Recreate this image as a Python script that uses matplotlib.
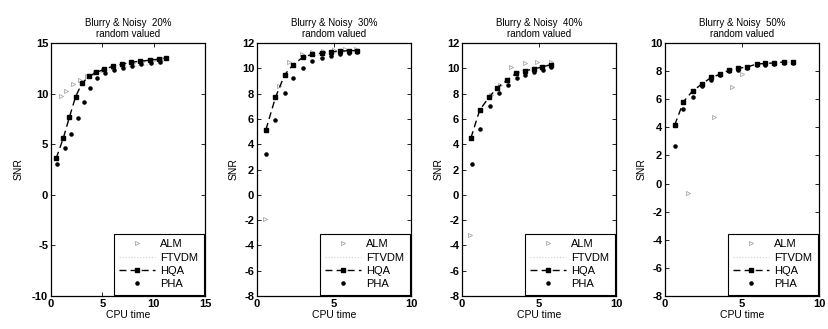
import matplotlib
matplotlib.use("Agg")
import matplotlib.pyplot as plt

plt.rcParams['font.family'] = ['Liberation Sans', 'DejaVu Sans']
plt.rcParams['axes.unicode_minus'] = False

titles = ["Blurry & Noisy  20%\nrandom valued", "Blurry & Noisy  30%\nrandom valued",
          "Blurry & Noisy  40%\nrandom valued", "Blurry & Noisy  50%\nrandom valued"]
methods = ["ALM", "FTVDM", "HQA", "PHA"]

# Panel 1 (20%)
p1_alm_x = [1.0, 1.5, 2.1, 2.8, 3.5, 4.3, 5.1, 6.0, 7.0, 8.0, 9.0, 10.0, 11.0]
p1_alm_y = [9.8, 10.3, 10.9, 11.3, 11.7, 12.0, 12.3, 12.6, 12.8, 13.0, 13.2, 13.3, 13.4]
p1_ftv_x = [4.0, 5.0, 6.0, 7.0, 8.0, 9.0, 10.0, 11.0]
p1_ftv_y = [11.8, 12.2, 12.4, 12.6, 12.7, 12.8, 12.9, 13.0]
p1_hqa_x = [0.5, 1.2, 1.8, 2.4, 3.0, 3.7, 4.4, 5.2, 6.0, 6.9, 7.8, 8.7, 9.6, 10.5, 11.2]
p1_hqa_y = [3.6, 5.6, 7.7, 9.7, 11.0, 11.7, 12.1, 12.4, 12.7, 12.9, 13.1, 13.2, 13.3, 13.4, 13.5]
p1_pha_x = [0.6, 1.35, 1.95, 2.6, 3.2, 3.8, 4.5, 5.3, 6.1, 7.0, 7.9, 8.8, 9.7, 10.6]
p1_pha_y = [3.0, 4.6, 6.0, 7.6, 9.2, 10.6, 11.5, 12.0, 12.3, 12.5, 12.7, 12.9, 13.0, 13.1]

# Panel 2 (30%)
p2_alm_x = [0.5, 1.45, 2.1, 2.9, 3.6, 4.3, 5.0, 5.7, 6.4]
p2_alm_y = [-1.9, 8.6, 10.5, 11.1, 11.3, 11.4, 11.45, 11.5, 11.5]
p2_ftv_x = [3.0, 3.7, 4.4, 5.1, 5.8, 6.5]
p2_ftv_y = [10.8, 11.0, 11.1, 11.2, 11.3, 11.3]
p2_hqa_x = [0.58, 1.2, 1.8, 2.37, 3.0, 3.6, 4.2, 4.8, 5.4, 6.0, 6.5]
p2_hqa_y = [5.15, 7.7, 9.5, 10.3, 10.9, 11.1, 11.2, 11.3, 11.35, 11.4, 11.4]
p2_pha_x = [0.58, 1.2, 1.8, 2.33, 2.97, 3.6, 4.2, 4.8, 5.4, 6.0, 6.5]
p2_pha_y = [3.2, 5.94, 8.04, 9.27, 10.06, 10.6, 10.85, 11.0, 11.1, 11.2, 11.25]

# Panel 3 (40%)
p3_alm_x = [0.5, 1.9, 2.5, 3.2, 4.1, 4.9, 5.8]
p3_alm_y = [-3.2, 7.9, 8.7, 10.1, 10.4, 10.5, 10.5]
p3_ftv_x = [3.5, 4.1, 4.7, 5.2, 5.8]
p3_ftv_y = [9.7, 9.9, 10.1, 10.2, 10.3]
p3_hqa_x = [0.58, 1.15, 1.75, 2.3, 2.93, 3.5, 4.1, 4.65, 5.2, 5.8]
p3_hqa_y = [4.5, 6.7, 7.7, 8.48, 9.06, 9.6, 9.8, 9.95, 10.1, 10.3]
p3_pha_x = [0.62, 1.2, 1.8, 2.4, 2.97, 3.54, 4.1, 4.68, 5.26, 5.81]
p3_pha_y = [2.45, 5.2, 7.04, 8.04, 8.7, 9.27, 9.5, 9.74, 9.9, 10.1]

# Panel 4 (50%)
p4_alm_x = [1.5, 3.2, 4.35, 5.0]
p4_alm_y = [-0.7, 4.7, 6.9, 7.8]
p4_ftv_x = [5.9, 6.5, 7.1, 7.7, 8.3]
p4_ftv_y = [8.4, 8.5, 8.55, 8.6, 8.65]
p4_hqa_x = [0.63, 1.2, 1.8, 2.4, 3.0, 3.57, 4.17, 4.76, 5.35, 5.95, 6.5, 7.1, 7.7, 8.3]
p4_hqa_y = [4.16, 5.82, 6.6, 7.08, 7.55, 7.77, 8.07, 8.2, 8.3, 8.5, 8.55, 8.58, 8.65, 8.65]
p4_pha_x = [0.67, 1.2, 1.8, 2.4, 3.0, 3.57, 4.17, 4.76, 5.35, 5.95, 6.5, 7.1, 7.7, 8.3]
p4_pha_y = [2.67, 5.28, 6.18, 6.95, 7.4, 7.7, 8.0, 8.1, 8.25, 8.4, 8.45, 8.5, 8.55, 8.6]

panels = [
    (p1_alm_x, p1_alm_y, p1_ftv_x, p1_ftv_y, p1_hqa_x, p1_hqa_y, p1_pha_x, p1_pha_y),
    (p2_alm_x, p2_alm_y, p2_ftv_x, p2_ftv_y, p2_hqa_x, p2_hqa_y, p2_pha_x, p2_pha_y),
    (p3_alm_x, p3_alm_y, p3_ftv_x, p3_ftv_y, p3_hqa_x, p3_hqa_y, p3_pha_x, p3_pha_y),
    (p4_alm_x, p4_alm_y, p4_ftv_x, p4_ftv_y, p4_hqa_x, p4_hqa_y, p4_pha_x, p4_pha_y),
]
xlims = [(0, 15), (0, 10), (0, 10), (0, 10)]
xticks = [[0, 5, 10, 15], [0, 5, 10], [0, 5, 10], [0, 5, 10]]
ylims = [(-10, 15), (-8, 12), (-8, 12), (-8, 10)]
yticks = [[-10, -5, 0, 5, 10, 15], list(range(-8, 13, 2)), list(range(-8, 13, 2)), list(range(-8, 11, 2))]

W, H = 829, 329
fig = plt.figure(figsize=(W / 100, H / 100), dpi=100)
lefts = [51, 257, 462, 665]
for i, left in enumerate(lefts):
    ax = fig.add_axes([left / W, (H - 296) / H, 154 / W, 253 / H])
    ax_x, ax_y, fx, fy, hx, hy, px, py = panels[i]
    ax.plot(ax_x, ax_y, linestyle='none', marker='>', markersize=3, color='#a8a8a8',
            markerfacecolor='none', markeredgewidth=0.6, label=methods[0])
    ax.plot(fx, fy, linestyle=':', linewidth=0.8, color='#cccccc', label=methods[1])
    ax.plot(hx, hy, linestyle=(0, (5, 3)), linewidth=1.0, color='black', marker='s',
            markersize=2.2, label=methods[2])
    ax.plot(px, py, linestyle='none', marker='.', markersize=4.5, color='black', label=methods[3])
    ax.set_xlim(*xlims[i])
    ax.set_ylim(*ylims[i])
    ax.set_xticks(xticks[i])
    ax.set_yticks(yticks[i])
    ax.tick_params(direction='in', top=True, right=True, length=3, width=0.6, labelsize=8, pad=2)
    for lab in ax.get_xticklabels() + ax.get_yticklabels():
        lab.set_fontweight('bold')
    for s in ax.spines.values():
        s.set_linewidth(0.9)
    ax.set_title(titles[i], fontsize=7, pad=4, linespacing=1.2)
    ax.set_xlabel("CPU time", fontsize=7.5, labelpad=1)
    ax.set_ylabel("SNR", fontsize=7.5, labelpad=6 if i == 0 else 2)
    leg = ax.legend(loc='lower right', prop={'size': 8}, frameon=True, fancybox=False,
                    edgecolor='black', framealpha=1, borderaxespad=0.1, handlelength=3.2,
                    borderpad=0.5, labelspacing=0.3, handletextpad=0.5)
    leg.get_frame().set_linewidth(0.8)

fig.savefig("out.png", dpi=100)
